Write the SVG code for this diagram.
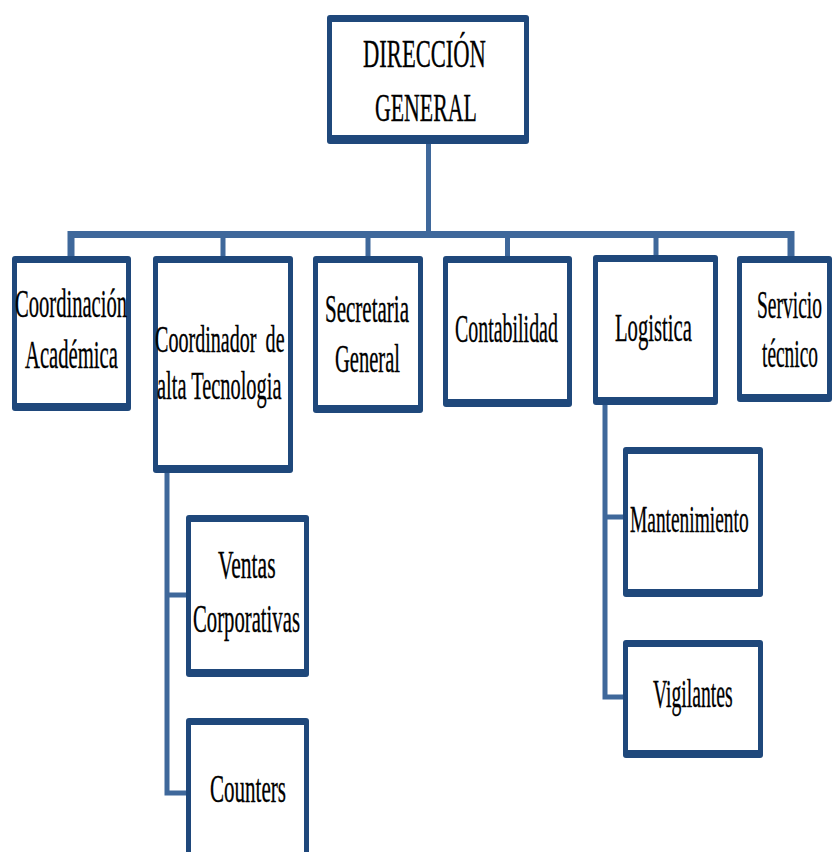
<svg xmlns="http://www.w3.org/2000/svg" width="832" height="852" viewBox="0 0 832 852">
<style>
.frame{fill:#1f487b}
.inner{fill:#ffffff}
.lbl{font-family:"Liberation Serif","Times New Roman",serif;font-size:39px;fill:#000;stroke:#000;stroke-width:0.35}
.conn{fill:none;stroke:#3f689b;stroke-width:5;stroke-linejoin:miter;stroke-linecap:butt}
.bus{stroke-width:7}
</style>
<rect width="832" height="852" fill="#ffffff"/>
<g id="connectors">
<path class="conn" d="M428.5,143 V234"/>
<path class="conn bus" d="M71,258 V234.5 H791 V258"/>
<path class="conn" d="M223,234 V258 M368,234 V258 M507.5,234 V258 M656,234 V258"/>
<path class="conn" d="M167,472 V793 H188 M167,595 H188"/>
<path class="conn" d="M605,404 V697 H625 M605,517 H625"/>
</g>
<g id="direccion">
<rect class="frame" x="327" y="15" width="202" height="129" rx="3"/>
<rect class="inner" x="332" y="22" width="192" height="113"/>
<text class="lbl" transform="translate(363,67) scale(0.579,1)">DIRECCIÓN</text>
<text class="lbl" transform="translate(375,121) scale(0.560,1)">GENERAL</text>
</g>
<g id="coord-academica">
<rect class="frame" x="12" y="256" width="119" height="155" rx="3"/>
<rect class="inner" x="17" y="263" width="109" height="140"/>
<text class="lbl" transform="translate(15,317) scale(0.528,1)">Coordinación</text>
<text class="lbl" transform="translate(25,368) scale(0.530,1)">Académica</text>
</g>
<g id="coord-tecnologia">
<rect class="frame" x="153" y="256" width="140" height="217" rx="3"/>
<rect class="inner" x="158" y="263" width="130" height="202"/>
<text class="lbl" transform="translate(155,352) scale(0.515,1)" word-spacing="8">Coordinador de</text>
<text class="lbl" transform="translate(157,399) scale(0.523,1)">alta Tecnologia</text>
</g>
<g id="secretaria">
<rect class="frame" x="313" y="256" width="110" height="157" rx="3"/>
<rect class="inner" x="318" y="263" width="100" height="142"/>
<text class="lbl" transform="translate(325,322) scale(0.539,1)">Secretaria</text>
<text class="lbl" transform="translate(335,372) scale(0.527,1)">General</text>
</g>
<g id="contabilidad">
<rect class="frame" x="443" y="256" width="129" height="151" rx="3"/>
<rect class="inner" x="448" y="263" width="119" height="136"/>
<text class="lbl" transform="translate(455,342) scale(0.511,1)">Contabilidad</text>
</g>
<g id="logistica">
<rect class="frame" x="593" y="255" width="125" height="150" rx="3"/>
<rect class="inner" x="598" y="262" width="115" height="135"/>
<text class="lbl" transform="translate(615,341) scale(0.530,1)">Logistica</text>
</g>
<g id="servicio">
<rect class="frame" x="737" y="256" width="95" height="146" rx="3"/>
<rect class="inner" x="742" y="263" width="85" height="131"/>
<text class="lbl" transform="translate(757,318) scale(0.500,1)">Servicio</text>
<text class="lbl" transform="translate(762,367) scale(0.497,1)">técnico</text>
</g>
<g id="ventas">
<rect class="frame" x="186" y="515" width="123" height="162" rx="3"/>
<rect class="inner" x="191" y="522" width="113" height="147"/>
<text class="lbl" transform="translate(218,578) scale(0.554,1)">Ventas</text>
<text class="lbl" transform="translate(193,632) scale(0.531,1)">Corporativas</text>
</g>
<g id="counters">
<rect class="frame" x="186" y="718" width="123" height="150" rx="3"/>
<rect class="inner" x="191" y="725" width="113" height="140"/>
<text class="lbl" transform="translate(210,802) scale(0.540,1)">Counters</text>
</g>
<g id="mantenimiento">
<rect class="frame" x="623" y="447" width="140" height="150" rx="3"/>
<rect class="inner" x="628" y="454" width="130" height="135"/>
<text class="lbl" transform="translate(630,532) scale(0.498,1)">Mantenimiento</text>
</g>
<g id="vigilantes">
<rect class="frame" x="623" y="640" width="140" height="118" rx="3"/>
<rect class="inner" x="628" y="647" width="130" height="103"/>
<text class="lbl" transform="translate(653,707) scale(0.505,1)">Vigilantes</text>
</g>
</svg>
